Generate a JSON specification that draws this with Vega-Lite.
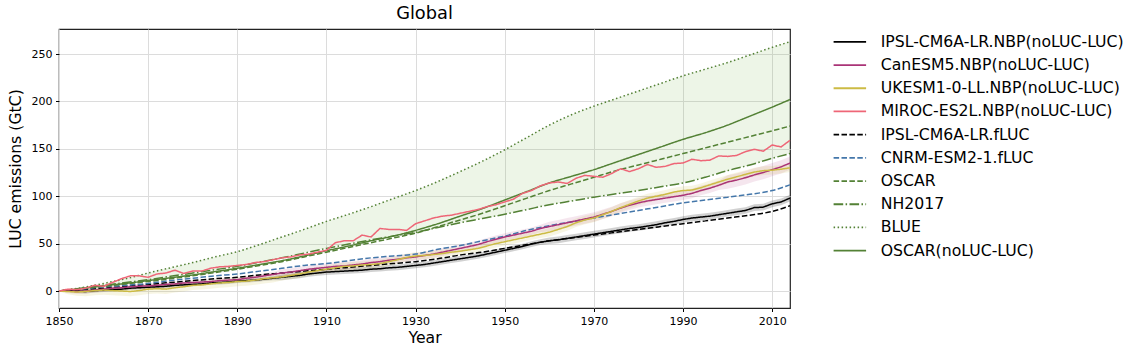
{
  "$schema": "https://vega.github.io/schema/vega-lite/v6.json",
  "width": 731,
  "height": 279,
  "autosize": "none",
  "padding": {"left": 59, "top": 29, "right": 345, "bottom": 46},
  "title": {"text": "Global", "fontSize": 17.8, "fontWeight": "normal", "color": "#000", "offset": 6},
  "datasets": {
    "s": [
      {"y": 1850, "e": 0, "f": 0, "g": 0, "h": 0, "i": 0, "j": 0},
      {"y": 1855, "e": 1.5, "f": 2, "g": 2.5, "h": 3, "i": 3.5, "j": 2.5},
      {"y": 1860, "e": 3, "f": 4.5, "g": 5, "h": 6, "i": 8, "j": 5.5},
      {"y": 1865, "e": 5, "f": 6, "g": 7.5, "h": 9, "i": 13, "j": 8},
      {"y": 1870, "e": 7, "f": 8, "g": 10, "h": 12, "i": 19, "j": 11},
      {"y": 1875, "e": 9, "f": 11, "g": 13, "h": 15.5, "i": 24.5, "j": 14},
      {"y": 1880, "e": 11, "f": 13.5, "g": 16, "h": 19, "i": 30, "j": 17},
      {"y": 1885, "e": 13, "f": 16, "g": 19.5, "h": 22.5, "i": 36, "j": 20.5},
      {"y": 1890, "e": 14.5, "f": 18, "g": 23, "h": 26, "i": 41.5, "j": 24},
      {"y": 1895, "e": 17, "f": 21, "g": 27, "h": 30.5, "i": 49, "j": 28},
      {"y": 1900, "e": 19, "f": 24, "g": 31, "h": 35, "i": 57, "j": 32},
      {"y": 1905, "e": 21, "f": 27, "g": 36, "h": 40, "i": 65, "j": 37},
      {"y": 1910, "e": 23, "f": 29, "g": 41, "h": 45, "i": 73.5, "j": 42.5},
      {"y": 1915, "e": 25, "f": 32, "g": 46, "h": 49.5, "i": 81, "j": 47.5},
      {"y": 1920, "e": 27, "f": 35, "g": 51, "h": 54, "i": 89, "j": 53},
      {"y": 1925, "e": 29, "f": 37, "g": 56, "h": 58, "i": 97.5, "j": 58},
      {"y": 1930, "e": 31, "f": 39, "g": 61, "h": 62, "i": 106, "j": 64},
      {"y": 1935, "e": 34, "f": 44, "g": 68, "h": 67, "i": 115.5, "j": 71},
      {"y": 1940, "e": 38, "f": 48, "g": 75, "h": 72, "i": 126, "j": 79},
      {"y": 1945, "e": 41, "f": 53, "g": 82, "h": 76.5, "i": 137, "j": 87},
      {"y": 1950, "e": 45, "f": 58, "g": 90, "h": 81, "i": 149, "j": 96},
      {"y": 1955, "e": 49, "f": 64, "g": 98, "h": 86, "i": 162, "j": 105},
      {"y": 1960, "e": 53, "f": 69, "g": 106, "h": 91, "i": 175, "j": 114},
      {"y": 1965, "e": 56, "f": 73, "g": 113, "h": 95, "i": 186, "j": 121},
      {"y": 1970, "e": 59, "f": 77, "g": 120, "h": 99, "i": 195, "j": 128},
      {"y": 1975, "e": 62, "f": 81, "g": 127, "h": 102.5, "i": 203, "j": 136},
      {"y": 1980, "e": 65, "f": 85, "g": 133, "h": 106, "i": 211, "j": 144},
      {"y": 1985, "e": 68, "f": 89, "g": 139, "h": 110, "i": 219, "j": 152},
      {"y": 1990, "e": 71, "f": 93, "g": 145, "h": 114, "i": 227, "j": 160},
      {"y": 1995, "e": 74, "f": 96, "g": 151, "h": 120, "i": 234, "j": 167},
      {"y": 2000, "e": 77, "f": 99, "g": 157, "h": 127, "i": 241, "j": 175},
      {"y": 2005, "e": 80, "f": 102, "g": 163, "h": 133, "i": 249, "j": 184.5},
      {"y": 2010, "e": 84, "f": 106, "g": 169, "h": 140, "i": 257, "j": 194},
      {"y": 2014, "e": 90, "f": 112, "g": 174, "h": 145, "i": 263, "j": 202}
    ],
    "n": [
      {"y": 1850, "a": 0, "b": 0, "c": 0, "d": 0, "ea": 0.5, "eb": 0.5, "ec": 0.5},
      {"y": 1852, "a": 0.5, "b": 0, "c": -0.5, "d": 2, "ea": 1.5, "eb": 2, "ec": 3},
      {"y": 1854, "a": 0, "b": -0.5, "c": -1, "d": 1.5, "ea": 2, "eb": 2.5, "ec": 4},
      {"y": 1856, "a": -0.5, "b": 0, "c": -0.5, "d": 3, "ea": 2, "eb": 2.5, "ec": 5},
      {"y": 1858, "a": 0.5, "b": 1, "c": 0.5, "d": 6, "ea": 2, "eb": 2.5, "ec": 5},
      {"y": 1860, "a": 1, "b": 2, "c": 1, "d": 5, "ea": 2, "eb": 2.5, "ec": 5},
      {"y": 1862, "a": 1.5, "b": 3, "c": 0.5, "d": 9, "ea": 2, "eb": 2.5, "ec": 5},
      {"y": 1864, "a": 2, "b": 3.5, "c": 0, "d": 13, "ea": 2, "eb": 2.5, "ec": 5},
      {"y": 1866, "a": 3, "b": 4.5, "c": -0.5, "d": 16, "ea": 2, "eb": 2.5, "ec": 5},
      {"y": 1868, "a": 3.5, "b": 5, "c": 0.5, "d": 16, "ea": 2, "eb": 2.5, "ec": 5},
      {"y": 1870, "a": 4, "b": 5.5, "c": 2, "d": 14.5, "ea": 2, "eb": 2.5, "ec": 5},
      {"y": 1872, "a": 4.5, "b": 6, "c": 2.5, "d": 18, "ea": 2, "eb": 2.5, "ec": 5},
      {"y": 1874, "a": 5, "b": 7, "c": 2, "d": 19, "ea": 2, "eb": 2.5, "ec": 5},
      {"y": 1876, "a": 6, "b": 7.5, "c": 3.5, "d": 22, "ea": 2, "eb": 2.5, "ec": 5},
      {"y": 1878, "a": 6.5, "b": 8.5, "c": 4.5, "d": 18.5, "ea": 2, "eb": 2.5, "ec": 5},
      {"y": 1880, "a": 7, "b": 9, "c": 6, "d": 21, "ea": 2, "eb": 2.5, "ec": 5},
      {"y": 1882, "a": 7.5, "b": 9.5, "c": 6.5, "d": 21, "ea": 2, "eb": 2.5, "ec": 5},
      {"y": 1884, "a": 8.5, "b": 10, "c": 7.5, "d": 24, "ea": 2, "eb": 2.5, "ec": 5},
      {"y": 1886, "a": 9, "b": 11, "c": 8.5, "d": 25.5, "ea": 2, "eb": 2.5, "ec": 5},
      {"y": 1888, "a": 9.5, "b": 11.5, "c": 9, "d": 26, "ea": 2, "eb": 2.5, "ec": 5},
      {"y": 1890, "a": 10.5, "b": 12, "c": 10, "d": 27, "ea": 2, "eb": 2.5, "ec": 5},
      {"y": 1892, "a": 11, "b": 13.5, "c": 10.5, "d": 28, "ea": 2, "eb": 2.5, "ec": 5},
      {"y": 1894, "a": 11.5, "b": 14.5, "c": 11.5, "d": 30, "ea": 2, "eb": 2.5, "ec": 5},
      {"y": 1896, "a": 12.5, "b": 16, "c": 13, "d": 31, "ea": 2, "eb": 2.5, "ec": 5},
      {"y": 1898, "a": 13.5, "b": 17.5, "c": 14, "d": 33, "ea": 2, "eb": 2.5, "ec": 5},
      {"y": 1900, "a": 14.5, "b": 19, "c": 15, "d": 35, "ea": 3, "eb": 4, "ec": 4},
      {"y": 1902, "a": 15.5, "b": 20, "c": 16.5, "d": 36, "ea": 3, "eb": 4, "ec": 4},
      {"y": 1904, "a": 16.5, "b": 21.5, "c": 18, "d": 38, "ea": 3, "eb": 4, "ec": 4},
      {"y": 1906, "a": 18, "b": 23, "c": 20, "d": 39, "ea": 3, "eb": 4, "ec": 4},
      {"y": 1908, "a": 19, "b": 24, "c": 21.5, "d": 41, "ea": 3, "eb": 4, "ec": 4},
      {"y": 1910, "a": 20, "b": 25, "c": 23, "d": 43, "ea": 3, "eb": 4, "ec": 4},
      {"y": 1912, "a": 20.5, "b": 26, "c": 24.5, "d": 51, "ea": 3, "eb": 4, "ec": 4},
      {"y": 1914, "a": 21, "b": 26.5, "c": 26, "d": 53, "ea": 3, "eb": 4, "ec": 4},
      {"y": 1916, "a": 21.5, "b": 27.5, "c": 26.5, "d": 53, "ea": 3, "eb": 4, "ec": 4},
      {"y": 1918, "a": 22, "b": 28.5, "c": 27.5, "d": 59, "ea": 3, "eb": 4, "ec": 4},
      {"y": 1920, "a": 23, "b": 30, "c": 28, "d": 57, "ea": 3, "eb": 4, "ec": 4},
      {"y": 1922, "a": 23.5, "b": 31, "c": 29, "d": 66, "ea": 3, "eb": 4, "ec": 4},
      {"y": 1924, "a": 24.5, "b": 32.5, "c": 31, "d": 65, "ea": 3, "eb": 4, "ec": 4},
      {"y": 1926, "a": 25, "b": 33.5, "c": 33, "d": 65, "ea": 3, "eb": 4, "ec": 4},
      {"y": 1928, "a": 26, "b": 35, "c": 35.5, "d": 64, "ea": 3, "eb": 4, "ec": 4},
      {"y": 1930, "a": 27, "b": 36, "c": 37, "d": 71, "ea": 3, "eb": 4, "ec": 4},
      {"y": 1932, "a": 28, "b": 37.5, "c": 37.5, "d": 74, "ea": 3, "eb": 4, "ec": 4},
      {"y": 1934, "a": 29.5, "b": 39, "c": 38.5, "d": 77, "ea": 3, "eb": 4, "ec": 4},
      {"y": 1936, "a": 31, "b": 41, "c": 39.5, "d": 79, "ea": 3, "eb": 4, "ec": 4},
      {"y": 1938, "a": 32.5, "b": 43, "c": 41, "d": 80, "ea": 3, "eb": 4, "ec": 4},
      {"y": 1940, "a": 34, "b": 45, "c": 42, "d": 82, "ea": 3, "eb": 4, "ec": 4},
      {"y": 1942, "a": 35.5, "b": 47, "c": 43.5, "d": 84, "ea": 3, "eb": 4, "ec": 4},
      {"y": 1944, "a": 37, "b": 49, "c": 45, "d": 86, "ea": 3, "eb": 4, "ec": 4},
      {"y": 1946, "a": 39, "b": 52, "c": 47.5, "d": 89, "ea": 3, "eb": 4, "ec": 4},
      {"y": 1948, "a": 41, "b": 54.5, "c": 50, "d": 91, "ea": 3, "eb": 4, "ec": 4},
      {"y": 1950, "a": 43, "b": 57, "c": 52, "d": 94, "ea": 3, "eb": 4, "ec": 4},
      {"y": 1952, "a": 45, "b": 59, "c": 54, "d": 97, "ea": 3, "eb": 4, "ec": 4},
      {"y": 1954, "a": 47, "b": 61, "c": 56, "d": 103, "ea": 3, "eb": 4, "ec": 4},
      {"y": 1956, "a": 49.5, "b": 63, "c": 58, "d": 106, "ea": 3, "eb": 4, "ec": 4},
      {"y": 1958, "a": 51.5, "b": 66, "c": 60, "d": 111, "ea": 3, "eb": 4, "ec": 4},
      {"y": 1960, "a": 53, "b": 68, "c": 62, "d": 114, "ea": 3.5, "eb": 5, "ec": 4.5},
      {"y": 1962, "a": 54, "b": 70, "c": 65, "d": 115, "ea": 3.5, "eb": 5, "ec": 4.5},
      {"y": 1964, "a": 55.5, "b": 72, "c": 68, "d": 113.5, "ea": 3.5, "eb": 5, "ec": 4.5},
      {"y": 1966, "a": 57, "b": 74, "c": 72, "d": 119, "ea": 3.5, "eb": 5, "ec": 4.5},
      {"y": 1968, "a": 58.5, "b": 76, "c": 75, "d": 122, "ea": 3.5, "eb": 5, "ec": 4.5},
      {"y": 1970, "a": 60, "b": 78, "c": 77, "d": 121, "ea": 3.5, "eb": 5, "ec": 4.5},
      {"y": 1972, "a": 61.5, "b": 81, "c": 80.5, "d": 120, "ea": 3.5, "eb": 5, "ec": 4.5},
      {"y": 1974, "a": 63, "b": 84, "c": 84, "d": 124, "ea": 3.5, "eb": 5, "ec": 4.5},
      {"y": 1976, "a": 64.5, "b": 87.5, "c": 88, "d": 129, "ea": 3.5, "eb": 5, "ec": 4.5},
      {"y": 1978, "a": 66, "b": 90.5, "c": 91.5, "d": 126, "ea": 3.5, "eb": 5, "ec": 4.5},
      {"y": 1980, "a": 67, "b": 93, "c": 95, "d": 129, "ea": 3.5, "eb": 5, "ec": 4.5},
      {"y": 1982, "a": 68.5, "b": 95, "c": 98, "d": 133.5, "ea": 3.5, "eb": 5, "ec": 4.5},
      {"y": 1984, "a": 70, "b": 96.5, "c": 100, "d": 130.5, "ea": 3.5, "eb": 5, "ec": 4.5},
      {"y": 1986, "a": 72, "b": 98, "c": 102, "d": 131.5, "ea": 3.5, "eb": 5, "ec": 4.5},
      {"y": 1988, "a": 73.5, "b": 99.5, "c": 104.5, "d": 134.5, "ea": 3.5, "eb": 5, "ec": 4.5},
      {"y": 1990, "a": 75.5, "b": 101, "c": 106, "d": 135, "ea": 3.5, "eb": 5, "ec": 4.5},
      {"y": 1992, "a": 77, "b": 103, "c": 106.5, "d": 139, "ea": 3.5, "eb": 5, "ec": 4.5},
      {"y": 1994, "a": 78, "b": 106, "c": 109, "d": 137.5, "ea": 3.5, "eb": 5, "ec": 4.5},
      {"y": 1996, "a": 79, "b": 108.5, "c": 112, "d": 138, "ea": 3.5, "eb": 5, "ec": 4.5},
      {"y": 1998, "a": 80.5, "b": 111.5, "c": 115, "d": 142.5, "ea": 3.5, "eb": 5, "ec": 4.5},
      {"y": 2000, "a": 82, "b": 115, "c": 118, "d": 142, "ea": 3.5, "eb": 7, "ec": 4.5},
      {"y": 2002, "a": 83.5, "b": 117, "c": 120.5, "d": 143, "ea": 3.5, "eb": 7, "ec": 4.5},
      {"y": 2004, "a": 85, "b": 119.5, "c": 123, "d": 147, "ea": 3.5, "eb": 7, "ec": 4.5},
      {"y": 2006, "a": 88, "b": 122.5, "c": 125.5, "d": 149.5, "ea": 3.5, "eb": 7, "ec": 4.5},
      {"y": 2008, "a": 88.5, "b": 125, "c": 127, "d": 147.5, "ea": 3.5, "eb": 7, "ec": 4.5},
      {"y": 2010, "a": 92, "b": 128, "c": 127.5, "d": 154, "ea": 3.5, "eb": 7, "ec": 4.5},
      {"y": 2012, "a": 94, "b": 131, "c": 128.5, "d": 152, "ea": 3.5, "eb": 7, "ec": 4.5},
      {"y": 2014, "a": 98, "b": 135, "c": 130, "d": 159, "ea": 3.5, "eb": 7, "ec": 4.5}
    ]
  },
  "layer": [
    {
      "data": {"name": "s"},
      "mark": {"type": "area", "color": "#6aaa3a", "opacity": 0.12, "interpolate": "monotone"},
      "encoding": {
        "x": {"field": "y", "type": "quantitative", "scale": {"domain": [1850, 2014], "nice": false, "zero": false}, "title": "Year",
              "axis": {"values": [1850, 1870, 1890, 1910, 1930, 1950, 1970, 1990, 2010], "format": "d"}},
        "y": {"field": "h", "type": "quantitative", "scale": {"domain": [-17.9, 276.4], "nice": false, "zero": false}, "title": "LUC emissions (GtC)",
              "axis": {"values": [0, 50, 100, 150, 200, 250]}},
        "y2": {"field": "i"}
      }
    },
    {
      "data": {"name": "n"},
      "mark": {"type": "errorband", "color": "#000000", "opacity": 0.18},
      "encoding": {
        "x": {"field": "y", "type": "quantitative", "title": "Year"},
        "y": {"field": "a", "type": "quantitative", "title": "LUC emissions (GtC)"},
        "yError": {"field": "ea"}
      }
    },
    {
      "data": {"name": "n"},
      "mark": {"type": "errorband", "color": "#AA3377", "opacity": 0.12},
      "encoding": {
        "x": {"field": "y", "type": "quantitative", "title": "Year"},
        "y": {"field": "b", "type": "quantitative", "title": "LUC emissions (GtC)"},
        "yError": {"field": "eb"}
      }
    },
    {
      "data": {"name": "n"},
      "mark": {"type": "errorband", "color": "#CCBB44", "opacity": 0.15},
      "encoding": {
        "x": {"field": "y", "type": "quantitative", "title": "Year"},
        "y": {"field": "c", "type": "quantitative", "title": "LUC emissions (GtC)"},
        "yError": {"field": "ec"}
      }
    },
    {
      "data": {"name": "s"},
      "transform": [{"fold": ["e", "f", "g", "h", "i", "j"], "as": ["k", "v"]}],
      "mark": {"type": "line", "strokeWidth": 1.5, "interpolate": "monotone"},
      "encoding": {
        "x": {"field": "y", "type": "quantitative", "title": "Year"},
        "y": {"field": "v", "type": "quantitative", "title": "LUC emissions (GtC)"},
        "color": {"field": "k", "type": "nominal"},
        "strokeDash": {"field": "k", "type": "nominal"}
      }
    },
    {
      "data": {"name": "n"},
      "transform": [{"fold": ["a", "b", "c", "d"], "as": ["k", "v"]}],
      "mark": {"type": "line", "strokeWidth": 1.5},
      "encoding": {
        "x": {"field": "y", "type": "quantitative", "title": "Year"},
        "y": {"field": "v", "type": "quantitative", "title": "LUC emissions (GtC)"},
        "color": {
          "field": "k", "type": "nominal",
          "scale": {
            "domain": ["a", "b", "c", "d", "e", "f", "g", "h", "i", "j"],
            "range": ["#000000", "#AA3377", "#CCBB44", "#EE6677", "#000000", "#4477AA", "#538135", "#538135", "#538135", "#538135"]
          },
          "legend": {"title": null, "labelExpr": "{'a':'IPSL-CM6A-LR.NBP(noLUC-LUC)','b':'CanESM5.NBP(noLUC-LUC)','c':'UKESM1-0-LL.NBP(noLUC-LUC)','d':'MIROC-ES2L.NBP(noLUC-LUC)','e':'IPSL-CM6A-LR.fLUC','f':'CNRM-ESM2-1.fLUC','g':'OSCAR','h':'NH2017','i':'BLUE','j':'OSCAR(noLUC-LUC)'}[datum.label]"}
        },
        "strokeDash": {
          "field": "k", "type": "nominal",
          "scale": {
            "domain": ["a", "b", "c", "d", "e", "f", "g", "h", "i", "j"],
            "range": [[1, 0], [1, 0], [1, 0], [1, 0], [5.5, 2.4], [5.5, 2.4], [5.5, 2.4], [9.6, 2.4, 1.5, 2.4], [1.5, 2.5], [1, 0]]
          },
          "legend": {"title": null, "labelExpr": "{'a':'IPSL-CM6A-LR.NBP(noLUC-LUC)','b':'CanESM5.NBP(noLUC-LUC)','c':'UKESM1-0-LL.NBP(noLUC-LUC)','d':'MIROC-ES2L.NBP(noLUC-LUC)','e':'IPSL-CM6A-LR.fLUC','f':'CNRM-ESM2-1.fLUC','g':'OSCAR','h':'NH2017','i':'BLUE','j':'OSCAR(noLUC-LUC)'}[datum.label]"}
        }
      }
    }
  ],
  "config": {
    "font": "DejaVu Sans",
    "view": {"stroke": "#222222", "strokeWidth": 1.2},
    "axis": {
      "labelFontSize": 11,
      "labelColor": "#000000",
      "tickColor": "#000000",
      "tickSize": 3.5,
      "labelPadding": 3.5,
      "domain": false,
      "gridColor": "#dcdcdc",
      "titleFontSize": 15.7,
      "titleFontWeight": "normal",
      "titleColor": "#000000",
      "labelFlush": false
    },
    "axisX": {"titlePadding": 4},
    "axisY": {"titlePadding": 8},
    "legend": {
      "orient": "none",
      "legendX": 783,
      "legendY": 5,
      "padding": 0,
      "labelFontSize": 15.7,
      "labelLimit": 400,
      "labelColor": "#000000",
      "symbolType": "M-2.5,0H2.5",
      "symbolSize": 169,
      "symbolStrokeWidth": 1.8,
      "rowPadding": 6.2,
      "labelOffset": 23
    }
  }
}
